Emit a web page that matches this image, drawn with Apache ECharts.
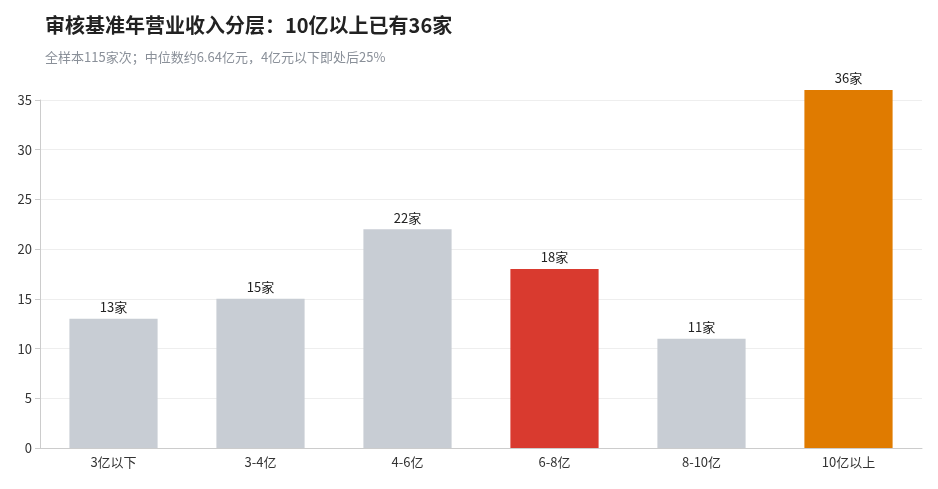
<!DOCTYPE html>
<html><head><meta charset="utf-8">
<script src="https://cdn.jsdelivr.net/npm/echarts@6/dist/echarts.min.js"></script>
<style>html,body{margin:0;padding:0;background:#fff}#c{width:938px;height:489px}</style>
</head><body><div id="c"></div>
<script>
const categories=['3亿以下','3-4亿','4-6亿','6-8亿','8-10亿','10亿以上'];
const values=[13,15,22,18,11,36];
const colors=['#c8cdd4','#c8cdd4','#c8cdd4','#d93a2f','#c8cdd4','#e07b00'];
const yTicks=[0,5,10,15,20,25,30,35];
const chart=echarts.init(document.getElementById('c'));
const F='"Noto Sans CJK SC","Noto Sans",sans-serif';
chart.setOption({
 animation:false,
 textStyle:{fontFamily:F},
 title:{text:'审核基准年营业收入分层：10亿以上已有36家',left:40,top:10,
  textStyle:{fontSize:20,fontWeight:'bold',color:'#222',fontFamily:F},
  subtext:'全样本115家次；中位数约6.64亿元，4亿元以下即处后25%',
  subtextStyle:{fontSize:13,color:'#8a9099',fontFamily:F},itemGap:16},
 grid:{left:40,right:16,top:100,bottom:41},
 xAxis:{type:'category',data:categories,axisTick:{show:false},
  axisLine:{lineStyle:{color:'#ccc'}},axisLabel:{color:'#333',fontSize:13,margin:8}},
 yAxis:{type:'value',min:0,max:yTicks[yTicks.length-1],interval:5,
  axisLine:{show:true,lineStyle:{color:'#ccc'}},axisTick:{show:true,lineStyle:{color:'#ccc'}},
  axisLabel:{color:'#333',fontSize:13},splitLine:{lineStyle:{color:'#eee'}}},
 series:[{type:'bar',clip:false,barWidth:'60%',
  data:values.map((v,i)=>({value:v,itemStyle:{color:colors[i]}})),
  label:{show:true,position:'top',formatter:'{c}家',color:'#222',fontSize:13}}]
});
</script></body></html>
